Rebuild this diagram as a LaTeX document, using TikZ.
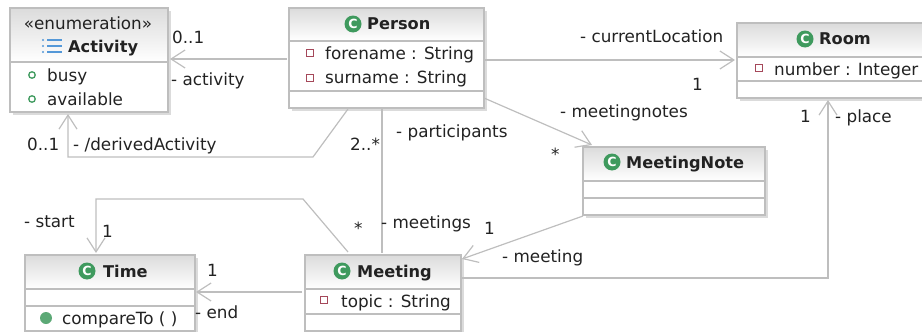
\documentclass[tikz,border=0pt]{standalone}
\usepackage{fontspec}
\setmainfont{DejaVu Sans}[Scale=1.68]
\newfontfamily\titlefont{DejaVu Sans}[Scale=1.62]
\usetikzlibrary{arrows.meta}
\definecolor{edge}{HTML}{BEBEBE}
\definecolor{ink}{HTML}{222222}
\definecolor{cgreen}{HTML}{3F9A5E}
\definecolor{attrred}{HTML}{A5485A}
\tikzset{
  x=1pt,y=-1pt,
  txt/.style={anchor=base west,inner sep=0pt,text=ink},
  title/.style={txt,font=\titlefont\bfseries},
  boxframe/.style={draw=edge,line width=1.3pt,inner sep=0pt,outer sep=0pt},
  conn/.style={draw=edge,line width=1.2pt,line join=miter},
  assoc/.style={conn,-{Straight Barb[length=14pt,width=18pt,line width=1.2pt]}},
  cicon/.style={circle,fill=cgreen,minimum size=17pt,inner sep=0pt,text=white,font=\fontsize{7.5}{8}\selectfont\bfseries},
  attricon/.style={draw=attrred,fill=white,line width=1.1pt,minimum size=6.5pt,inner sep=0pt},
  liticon/.style={circle,draw=cgreen,fill=white,line width=1.3pt,minimum size=6.5pt,inner sep=0pt},
  opicon/.style={circle,fill=cgreen!85,minimum size=12pt,inner sep=0pt},
}
% name, left, top, right, bottom, header bottom, separator
\newcommand{\classbox}[7]{%
  \fill[black!14] (#2+3,#3+3) rectangle (#4+3,#5+3);
  \fill[white] (#2,#3) rectangle (#4,#5);
  \shade[top color=black!14,bottom color=white] (#2,#3) rectangle (#4,#6);
  \draw[edge,line width=1.2pt] (#2,#6) -- (#4,#6);
  \draw[edge,line width=1.2pt] (#2,#7) -- (#4,#7);
  \pgfmathsetmacro{\bw}{#4-(#2)}\pgfmathsetmacro{\bh}{#5-(#3)}%
  \pgfmathsetmacro{\bx}{(#2+#4)/2}\pgfmathsetmacro{\by}{(#3+#5)/2}%
  \node[boxframe,minimum width=\bw pt,minimum height=\bh pt] (#1) at (\bx,\by) {};
}
\begin{document}
\begin{tikzpicture}
\useasboundingbox (0,0) rectangle (922,332);
\clip (0,0) rectangle (922,332);

\classbox{activity}{10}{8}{168}{112}{62}{62}
\classbox{person}{289}{8}{484}{108}{41}{91}
\classbox{room}{737}{23}{926}{98}{57}{81}
\classbox{note}{583}{147}{765}{215}{181}{198}
\classbox{time}{25}{255}{195}{331}{289}{306}
\classbox{meeting}{305}{255}{461}{331}{289}{314}

% Activity
\node[txt,anchor=base] (tEnum) at (88,29) {«enumeration»};
\node[title] (tActivity) at (68,52) {Activity};
\foreach \yy in {40,46,52}{
  \fill[cyan!60!blue!70] (43,\yy) circle (1.1pt);
  \draw[cyan!60!blue!70,line width=1.1pt] (47,\yy) -- (62,\yy);
}
\node[liticon] (iBusy) at (32,75) {};
\node[txt] (tBusy) at (47,81) {busy};
\node[liticon] (iAvail) at (32,99) {};
\node[txt] (tAvail) at (47,105) {available};

% Person
\node[cicon] (iPerson) at (353,24) {C};
\node[title] (tPerson) at (367,30) {Person};
\node[attricon] (iFore) at (310,53) {};
\node[txt] (tFore) at (325,59) {forename : String};
\node[attricon] (iSur) at (310,78) {};
\node[txt] (tSur) at (325,83) {surname : String};

% Room
\node[cicon] (iRoom) at (805,39) {C};
\node[title] (tRoom) at (819,45) {Room};
\node[attricon] (iNum) at (759,68) {};
\node[txt] (tNum) at (774,75) {number : Integer};

% MeetingNote
\node[cicon] (iNote) at (612,162) {C};
\node[title] (tNote) at (626,168) {MeetingNote};

% Time
\node[cicon] (iTime) at (87,271) {C};
\node[title] (tTime) at (103,277) {Time};
\node[opicon] (iCmp) at (46,318) {};
\node[txt] (tCmp) at (62,324) {compareTo ( )};

% Meeting
\node[cicon] (iMeet) at (342,271) {C};
\node[title] (tMeet) at (357,277) {Meeting};
\node[attricon] (iTopic) at (324,300) {};
\node[txt] (tTopic) at (341,307) {topic : String};

% Connectors
\coordinate (b1) at (313,157);
\coordinate (b2) at (68,157);
\coordinate (b3) at (303,199);
\coordinate (b4) at (96,199);
\coordinate (b5) at (828,278);
\path[assoc] ([xshift=-2pt,yshift=-1pt]person.west) -- ([xshift=2pt,yshift=1pt]activity.east);
\path[assoc] ([xshift=59pt,yshift=-1pt]person.south west) -- (b1) -- (b2) -- ([xshift=58pt,yshift=-2pt]activity.south west);
\path[conn] ([xshift=93pt]person.south west) -- ([xshift=77pt,yshift=2pt]meeting.north west);
\path[assoc] ([yshift=-2pt]person.east) -- ([xshift=-2pt,yshift=.5pt]room.west);
\path[assoc] ([yshift=10pt]person.south east) -- ([xshift=9pt,yshift=2pt]note.north west);
\path[assoc] ([yshift=-1pt]note.south west) -- ([xshift=1pt,yshift=-4pt]meeting.north east);
\path[assoc] ([yshift=-23pt]meeting.north east) -- (b5) -- ([xshift=91pt,yshift=-2pt]room.south west);
\path[assoc] ([xshift=-3pt,yshift=-37pt]meeting.north west) -- ([xshift=1pt,yshift=-37pt]time.north east);
\path[assoc] ([xshift=43pt,yshift=3pt]meeting.north west) -- (b3) -- (b4) -- ([xshift=71pt,yshift=2pt]time.north west);

% Labels
\node[txt] (l1) at (172,43) {0..1};
\node[txt] (l2) at (171,85) {- activity};
\node[txt] (l3) at (27,150) {0..1};
\node[txt] (l4) at (73,150) {- /derivedActivity};
\node[txt] (l5) at (350,150) {2..*};
\node[txt] (l6) at (396,137) {- participants};
\node[txt] (l7) at (580,42) {- currentLocation};
\node[txt] (l8) at (692,90) {1};
\node[txt] (l9) at (560,117) {- meetingnotes};
\node[txt] (l10) at (551,160) {*};
\node[txt] (l11) at (800,122) {1};
\node[txt] (l12) at (835,122) {- place};
\node[txt] (l13) at (24,227) {- start};
\node[txt] (l14) at (102,237) {1};
\node[txt] (l15) at (354,234) {*};
\node[txt] (l16) at (381,228) {- meetings};
\node[txt] (l17) at (484,234) {1};
\node[txt] (l18) at (502,262) {- meeting};
\node[txt] (l19) at (207,276) {1};
\node[txt] (l20) at (195,318) {- end};
\end{tikzpicture}
\end{document}
